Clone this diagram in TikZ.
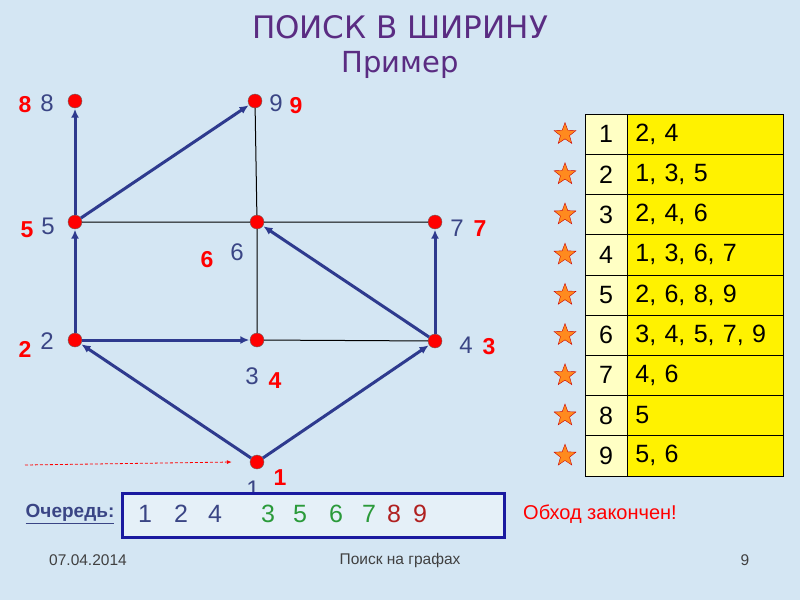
\documentclass[tikz,border=0pt]{standalone}
\usepackage{fontspec}
\setmainfont{Liberation Sans}
\newfontfamily\titlefont{DejaVu Sans}
\usetikzlibrary{
  shapes.geometric, % star
  arrows.meta,
  positioning,      % right=of ...
}
\definecolor{bgblue}{HTML}{D4E6F3}
\definecolor{treeblue}{HTML}{2E3A8E}
\definecolor{numblue}{HTML}{3A4585}
\definecolor{titlepurple}{HTML}{5A2C82}
\definecolor{qgreen}{HTML}{2A9A3A}
\definecolor{qred}{HTML}{B02020}
\definecolor{qblue}{HTML}{1A1AA0}
\definecolor{paleyellow}{HTML}{FFFFC4}
\definecolor{starorange}{HTML}{FF8A1E}
\definecolor{footgrey}{HTML}{404040}
\tikzset{
  x=1pt,y=-1pt,
  vertex/.style={
    circle,
    fill=red,
    draw=black!60,
    thin,
    minimum size=14pt,
    inner sep=0pt
  },
  tree edge/.style={
    -{Latex[length=9pt,width=8pt]},
    treeblue,
    line width=3pt,
    shorten >=0.5pt
  },
  graph edge/.style={
    draw=black,
    line width=1pt
  },
  vnum/.style={
    text=numblue,
    font=\fontsize{24}{24}\selectfont,
    inner sep=0pt
  },
  bfsnum/.style={
    text=red,
    font=\bfseries\fontsize{23}{23}\selectfont,
    inner sep=0pt
  },
  keycell/.style={
    draw,
    thin,
    fill=paleyellow,
    minimum width=42pt,
    minimum height=40.2pt,
    inner sep=0pt,
    font=\fontsize{25}{25}\selectfont
  },
  adjcell/.style={
    draw,
    thin,
    fill=yellow,
    minimum height=40.2pt,
    inner xsep=8pt,
    inner ysep=0pt,
    text width=140pt,
    align=left,
    font=\fontsize{25}{25}\selectfont
  },
  done star/.style={
    star,
    star points=5,
    star point ratio=2.4,
    fill=starorange,
    draw=red!80!black,
    thin,
    minimum size=23pt,
    inner sep=0pt
  },
  qnum/.style={
    inner sep=0pt,
    font=\fontsize{25}{25}\selectfont
  },
  foot/.style={
    text=footgrey,
    font=\fontsize{15.5}{15.5}\selectfont,
    inner sep=0pt
  }
}

\begin{document}
\begin{tikzpicture}
\useasboundingbox[fill=bgblue] (0,0) rectangle (800,600);

% title
\node[text=titlepurple, font=\titlefont\fontsize{31}{31}\selectfont] (title) at (400,27) {ПОИСК В ШИРИНУ};
\node[text=titlepurple, font=\titlefont\fontsize{29}{29}\selectfont] (subtitle) at (400,65) {Пример};

% vertices
\node[vertex] (1) at (257,462) {};
\node[vertex] (2) at (75,340)  {};
\node[vertex] (3) at (257,340) {};
\node[vertex] (4) at (435,341) {};
\node[vertex] (5) at (75,222)  {};
\node[vertex] (6) at (257,222) {};
\node[vertex] (7) at (435,222) {};
\node[vertex] (8) at (75,101)  {};
\node[vertex] (9) at (255,101) {};

% plain edges
\path[graph edge]
  (5) -- (6)
  (6) -- (7)
  (6) -- (9)
  (6) -- (3)
  (3) -- (4);

% BFS tree
\draw[tree edge] (1) -- (2);
\draw[tree edge] (1) -- (4);
\draw[tree edge] (2) -- (3);
\draw[tree edge] (2) -- (5);
\draw[tree edge] (4) -- (6);
\draw[tree edge] (4) -- (7);
\draw[tree edge] (5) -- (8);
\draw[tree edge] (5) -- (9);

% vertex names
\node[vnum] (n1) at (253,489) {1};
\node[vnum] (n2) at (47,341)  {2};
\node[vnum] (n3) at (252,376) {3};
\node[vnum] (n4) at (466,345) {4};
\node[vnum] (n5) at (48,226)  {5};
\node[vnum] (n6) at (237,252) {6};
\node[vnum] (n7) at (457,228) {7};
\node[vnum] (n8) at (47,103)  {8};
\node[vnum] (n9) at (276,103) {9};

% visiting order
\node[bfsnum] (o1) at (280,478) {1};
\node[bfsnum] (o2) at (25,349)  {2};
\node[bfsnum] (o3) at (489,347) {3};
\node[bfsnum] (o4) at (275,381) {4};
\node[bfsnum] (o5) at (27,230)  {5};
\node[bfsnum] (o6) at (207,260) {6};
\node[bfsnum] (o7) at (480,229) {7};
\node[bfsnum] (o8) at (25,105)  {8};
\node[bfsnum] (o9) at (296,106) {9};

% start
\coordinate (start) at (25,465);
\draw[-{Latex[length=5pt,width=4pt]}, red, densely dashed, line width=0.8pt] (start) -- ([xshift=-18pt]1.west);

% adjacency lists
\foreach \k/\adj in {1/{2, 4}, 2/{1, 3, 5}, 3/{2, 4, 6}, 4/{1, 3, 6, 7},
                     5/{2, 6, 8, 9}, 6/{3, 4, 5, 7, 9}, 7/{4, 6}, 8/{5}, 9/{5, 6}}{
  \node[keycell] (key\k) at (606,{93.9+40.2*\k}) {\k};
  \node[adjcell, right=0pt of key\k] (adj\k) {\adj};
  \node[done star] (star\k) at (565,{93.9+40.2*\k}) {};
}

% queue
\node[text=numblue, font=\bfseries\fontsize{19}{19}\selectfont, inner sep=0pt] (qlabel) at (70,514) {\underline{Очередь:}};
\node[draw=qblue, line width=2.8pt, fill=bgblue!60!white, minimum width=382pt, minimum height=44pt, inner sep=0pt] (queue) at (313.5,515.5) {};
\foreach \x/\v/\c in {145/1/numblue, 181/2/numblue, 215/4/numblue, 268/3/qgreen,
                      300/5/qgreen, 336/6/qgreen, 369/7/qgreen, 394/8/qred, 420/9/qred}{
  \node[qnum, text=\c] (q\v) at (\x,514) {\v};
}
\node[text=red, font=\fontsize{20}{20}\selectfont, inner sep=0pt] (finished) at (600,514) {Обход закончен!};

% footer
\node[foot] (date) at (88,560) {07.04.2014};
\node[foot] (topic) at (400,560) {Поиск на графах};
\node[foot] (page) at (745,560) {9};
\end{tikzpicture}
\end{document}
